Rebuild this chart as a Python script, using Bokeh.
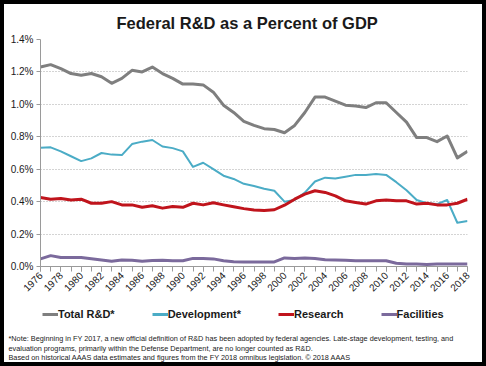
from bokeh.plotting import figure
from bokeh.layouts import column
from bokeh.models import (FixedTicker, PrintfTickFormatter, Legend, LegendItem, Label)
from bokeh.embed import file_html
from bokeh.resources import INLINE

years = list(range(1976, 2019))
total = [1.23, 1.245, 1.22, 1.19, 1.18, 1.19, 1.17, 1.13, 1.16, 1.21, 1.20, 1.23, 1.19, 1.16,
         1.125, 1.125, 1.12, 1.075, 0.995, 0.95, 0.895, 0.87, 0.85, 0.845, 0.825, 0.87, 0.95,
         1.045, 1.045, 1.02, 0.995, 0.99, 0.98, 1.01, 1.01, 0.95, 0.89, 0.795, 0.795, 0.77,
         0.805, 0.67, 0.71]
development = [0.732, 0.735, 0.71, 0.68, 0.65, 0.667, 0.70, 0.69, 0.687, 0.755, 0.77, 0.78,
               0.74, 0.73, 0.71, 0.614, 0.64, 0.60, 0.56, 0.54, 0.51, 0.497, 0.48, 0.467, 0.40,
               0.41, 0.456, 0.524, 0.548, 0.543, 0.554, 0.565, 0.565, 0.57, 0.565, 0.52, 0.47,
               0.41, 0.39, 0.385, 0.41, 0.27, 0.28]
research = [0.425, 0.415, 0.42, 0.41, 0.415, 0.39, 0.39, 0.40, 0.38, 0.38, 0.365, 0.375, 0.36,
            0.37, 0.365, 0.39, 0.38, 0.393, 0.38, 0.368, 0.357, 0.348, 0.345, 0.35, 0.378,
            0.415, 0.446, 0.467, 0.457, 0.436, 0.405, 0.395, 0.385, 0.405, 0.41, 0.405, 0.405,
            0.385, 0.39, 0.38, 0.38, 0.39, 0.415]
facilities = [0.047, 0.067, 0.055, 0.055, 0.055, 0.048, 0.04, 0.032, 0.04, 0.038, 0.032, 0.037,
              0.038, 0.035, 0.035, 0.05, 0.05, 0.047, 0.035, 0.03, 0.028, 0.028, 0.028, 0.028,
              0.053, 0.05, 0.053, 0.05, 0.042, 0.04, 0.038, 0.035, 0.035, 0.035, 0.035, 0.02,
              0.016, 0.015, 0.012, 0.015, 0.015, 0.015, 0.015]
y_ticks = [0.0, 0.2, 0.4, 0.6, 0.8, 1.0, 1.2, 1.4]
x_label_years = years[::2]

series = [total, development, research, facilities]
series_names = ["Total R&D*", "Development*", "Research", "Facilities"]
series_colors = ["#7f7f7f", "#4bacc6", "#c0141c", "#7b6a9c"]
series_widths = [3, 2, 3, 3]

notes = [
    "*Note: Beginning in FY 2017, a new official definition of R&D has been adopted by federal agencies. Late-stage development, testing, and",
    "evaluation programs, primarily within the Defense Department, are no longer counted as R&D.",
    "Based on historical AAAS data estimates and figures from the FY 2018 omnibus legislation.  \u00a9 2018 AAAS",
]

FONT = "Liberation Sans"
W = 478
H1, H2 = 294, 64
ML, MR, MT, MB = 36, 15, 34, 32

p = figure(width=W, height=H1, x_range=(1976, 2018), y_range=(0, 1.4),
           output_backend="svg", toolbar_location=None,
           min_border_left=ML, min_border_right=MR, min_border_top=MT, min_border_bottom=MB,
           background_fill_color="white", border_fill_color="white")
p.outline_line_color = None

p.title.text = "Federal R&D as a Percent of GDP"
p.title.text_font = FONT
p.title.text_font_size = "16.5px"
p.title.text_font_style = "bold"
p.title.text_color = "#1a1a1a"
p.title.align = "left"
p.title.offset = 76
p.title.standoff = 15

# grid
p.xgrid.visible = False
p.ygrid.ticker = FixedTicker(ticks=y_ticks[1:-1])
p.ygrid.grid_line_color = "#a8a8a8"
p.ygrid.grid_line_dash = "1 2"
p.ygrid.grid_line_width = 1

# y axis
p.yaxis.ticker = FixedTicker(ticks=y_ticks)
p.yaxis.formatter = PrintfTickFormatter(format="%.1f%%")
p.yaxis.axis_line_color = "#9a9a9a"
p.yaxis.major_tick_line_color = "#9a9a9a"
p.yaxis.major_tick_out = 4
p.yaxis.major_tick_in = 0
p.yaxis.minor_tick_line_color = None
p.yaxis.major_label_standoff = 3
p.yaxis.major_label_text_font = FONT
p.yaxis.major_label_text_font_size = "10px"
p.yaxis.major_label_text_color = "#1a1a1a"

# x axis
p.xaxis.ticker = FixedTicker(ticks=x_label_years, minor_ticks=years)
p.xaxis.axis_line_color = "#9a9a9a"
p.xaxis.major_tick_line_color = "#9a9a9a"
p.xaxis.minor_tick_line_color = "#9a9a9a"
p.xaxis.major_tick_out = 5
p.xaxis.major_tick_in = 0
p.xaxis.minor_tick_out = 5
p.xaxis.minor_tick_in = 0
p.xaxis.major_label_orientation = 0.785398
p.xaxis.major_label_standoff = 2
p.xaxis.major_label_text_font = FONT
p.xaxis.major_label_text_font_size = "10px"
p.xaxis.major_label_text_color = "#1a1a1a"

for vals, c, w in zip(series, series_colors, series_widths):
    p.line(years, vals, line_color=c, line_width=w, line_join="round")

# lower panel: legend + footnote (its ranges show none of the series; only the legend swatches)
p2 = figure(width=W, height=H2, x_range=(0, 1), y_range=(0, 1),
            output_backend="svg", toolbar_location=None,
            x_axis_location=None, y_axis_location=None,
            min_border_left=0, min_border_right=0, min_border_top=0, min_border_bottom=0,
            background_fill_color="white", border_fill_color="white")
p2.outline_line_color = None
p2.grid.visible = False
for fig in (p, p2):
    if "frame_align" in fig.properties():
        fig.frame_align = False

swatches = []
for vals, c in zip(series, series_colors):
    swatches.append(p2.line(years, vals, line_color=c, line_width=3))

legend = Legend(items=[LegendItem(label=n, renderers=[r]) for n, r in zip(series_names, swatches)],
                orientation="horizontal", location=(38, 41),
                glyph_width=16, glyph_height=14, label_standoff=0, spacing=37,
                padding=0, margin=0,
                label_text_font=FONT, label_text_font_size="11px", label_text_font_style="bold",
                label_text_color="#1a1a1a",
                background_fill_alpha=0, border_line_alpha=0)
p2.add_layout(legend, "center")

for i, line in enumerate(notes):
    p2.add_layout(Label(x=4, y=24 - 9.7 * i, x_units="screen", y_units="screen",
                        text=line, text_font=FONT, text_font_size="7.3px",
                        text_color="#1a1a1a", text_baseline="middle", text_align="left"))

layout = column(p, p2, spacing=0,
                styles={"box-sizing": "content-box", "border": "4px solid black"})
open("out.html", "w").write(file_html(layout, INLINE))
